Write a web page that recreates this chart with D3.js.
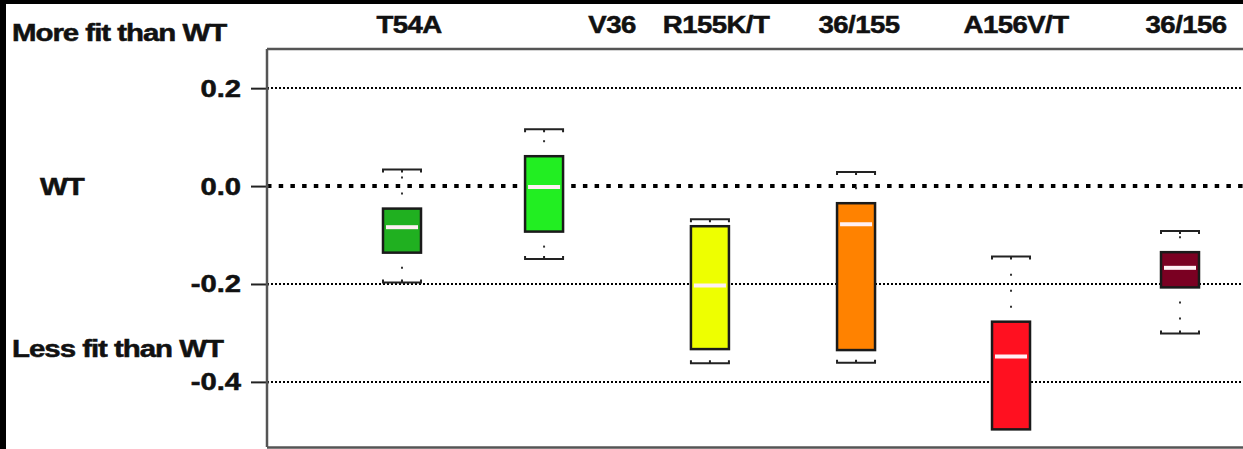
<!DOCTYPE html>
<html>
<head>
<meta charset="utf-8">
<script src="https://cdn.jsdelivr.net/npm/d3@7"></script>
<style>
  html, body { margin: 0; padding: 0; background: #fff; }
  svg { display: block; }
  text { font-family: "Liberation Sans", Arial, sans-serif; font-weight: bold; fill: #111;
         stroke: #111; stroke-width: 0.5px; }
</style>
</head>
<body>
<script>
// Relative fitness of each mutant versus wild type (box-and-whisker summaries)
const categories  = ["T54A", "V36", "R155K/T", "36/155", "A156V/T", "36/156"];
const whiskerHigh = [0.034, 0.116, -0.068, 0.029, -0.144, -0.092];
const q3          = [-0.046, 0.061, -0.082, -0.035, -0.277, -0.135];
const median      = [-0.084, -0.002, -0.203, -0.078, -0.348, -0.167];
const q1          = [-0.136, -0.093, -0.333, -0.335, -0.497, -0.207];
const whiskerLow  = [-0.197, -0.149, -0.362, -0.361, -0.497, -0.301];
const boxSlot     = [0, 0.913, 1.979, 2.918, 3.914, 5];
const labelSlot   = [0.045, 1.35, 2.018, 2.937, 3.946, 5.039];
const fills       = ["#20b020", "#22ee22", "#eeff00", "#ff8200", "#ff1020", "#7a0022"];
const yTicks      = [0.2, 0.0, -0.2, -0.4];
const sideLabels  = [
  { text: "More fit than WT", x: 12, y: 41 },
  { text: "WT", x: 40, y: 195 },
  { text: "Less fit than WT", x: 12, y: 357 }
];

const W = 1243, H = 449;
const plot = { left: 267, right: W, top: 49, bottom: 447 };

const data = categories.map((c, i) => ({
  name: c, slot: boxSlot[i], labelSlot: labelSlot[i], fill: fills[i],
  hi: whiskerHigh[i], q3: q3[i], med: median[i], q1: q1[i], lo: whiskerLow[i]
}));

const svg = d3.select("body").append("svg").attr("width", W).attr("height", H);
svg.append("rect").attr("width", W).attr("height", H).attr("fill", "#fff");

const y = d3.scaleLinear().domain([-0.533, 0.28]).range([plot.bottom, plot.top]);
const x = d3.scaleLinear().domain([0, 5]).range([402, 1180]);
const boxW = 38;

// grid lines (heavy dotted line marks WT level)
const grid = svg.append("g");
grid.selectAll("line").data(yTicks).join("line")
  .attr("x1", plot.left).attr("x2", plot.right)
  .attr("y1", d => Math.round(y(d))).attr("y2", d => Math.round(y(d)))
  .attr("stroke", "#000")
  .attr("stroke-width", d => d === 0 ? 4 : 2)
  .attr("stroke-dasharray", d => d === 0 ? "4.5,7.2" : "2,2");

// y axis
const yAxis = d3.axisLeft(y).tickValues(yTicks).tickFormat(d => d.toFixed(1))
  .tickSize(16).tickPadding(9);
const ax = svg.append("g").attr("transform", `translate(${plot.left},0)`).call(yAxis);
ax.select(".domain").remove();
ax.selectAll(".tick line").attr("stroke", "#222").attr("stroke-width", 2).attr("x2", -16).attr("x1", 2);
ax.selectAll(".tick text")
  .attr("font-size", 23).attr("fill", "#111")
  .attr("font-family", "Liberation Sans, Arial, sans-serif").attr("font-weight", "bold")
  .attr("x", null).attr("dy", null)
  .attr("transform", "translate(-26,8) scale(1.27,1)");

// frame
const frame = svg.append("g").attr("stroke", "#555").attr("stroke-width", 2.5).attr("fill", "none");
frame.append("line").attr("x1", plot.left).attr("x2", plot.left).attr("y1", plot.top).attr("y2", plot.bottom);
frame.append("line").attr("x1", plot.left).attr("x2", plot.right).attr("y1", plot.top).attr("y2", plot.top);
frame.append("line").attr("x1", plot.left).attr("x2", plot.right).attr("y1", plot.bottom + 0.5).attr("y2", plot.bottom + 0.5);

// boxes
const g = svg.append("g").selectAll("g").data(data).join("g")
  .attr("transform", d => `translate(${x(d.slot)},0)`);

// whiskers: sparse dotted stems running out from the box edges
g.append("line").attr("x1", 0).attr("x2", 0)
  .attr("y1", d => y(d.q3)).attr("y2", d => y(d.hi) + 4)
  .attr("stroke", "#333").attr("stroke-width", 2)
  .attr("stroke-dasharray", "2,14").attr("stroke-dashoffset", 2);
g.append("line").attr("x1", 0).attr("x2", 0)
  .attr("y1", d => y(d.q1)).attr("y2", d => y(d.lo) - 4)
  .attr("stroke", "#333").attr("stroke-width", 2)
  .attr("stroke-dasharray", "2,14").attr("stroke-dashoffset", 2);

// caps with end ticks
function cap(sel, key, dir) {
  sel.filter(d => d[key] !== (key === "hi" ? d.q3 : d.q1))
    .append("path")
    .attr("d", d => {
      const yy = y(d[key]);
      const t = 3 * dir;
      return `M${-boxW / 2},${yy + t}V${yy}H${boxW / 2}V${yy + t}M0,${yy}V${yy + t}`;
    })
    .attr("fill", "none").attr("stroke", "#222").attr("stroke-width", 2);
}
cap(g, "hi", 1);
cap(g, "lo", -1);

g.append("rect")
  .attr("x", -boxW / 2).attr("width", boxW)
  .attr("y", d => y(d.q3)).attr("height", d => y(d.q1) - y(d.q3))
  .attr("fill", d => d.fill).attr("stroke", "#1a1a1a").attr("stroke-width", 2.5);

g.append("line")
  .attr("x1", -boxW / 2 + 3).attr("x2", boxW / 2 - 3)
  .attr("y1", d => y(d.med)).attr("y2", d => y(d.med))
  .attr("stroke", "#fff0f4").attr("stroke-width", 4);

// category labels along the top
svg.append("g").selectAll("text").data(data).join("text")
  .attr("text-anchor", "middle").attr("font-size", 24).attr("letter-spacing", -0.5)
  .attr("transform", d => `translate(${x(d.labelSlot)},33) scale(1.15,1)`)
  .text(d => d.name);

// side annotations
svg.append("g").selectAll("text").data(sideLabels).join("text")
  .attr("font-size", 23).attr("letter-spacing", -0.8)
  .attr("transform", d => `translate(${d.x},${d.y}) scale(1.28,1)`)
  .text(d => d.text);

// dark border strips
svg.append("rect").attr("x", 0).attr("y", 0).attr("width", W).attr("height", 4).attr("fill", "#000");
svg.append("rect").attr("x", 0).attr("y", 0).attr("width", 6).attr("height", H).attr("fill", "#000");
</script>
</body>
</html>
